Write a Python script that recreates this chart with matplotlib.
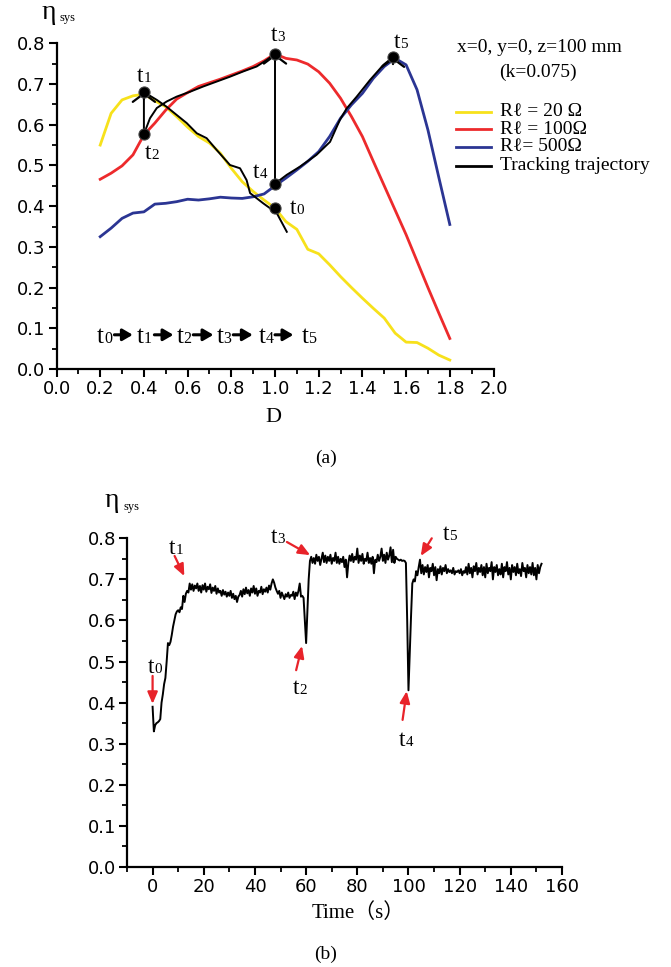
import numpy as np
import matplotlib.pyplot as plt
from matplotlib.lines import Line2D
from matplotlib.ticker import MultipleLocator, FormatStrFormatter

# ---- (a) efficiency vs D ----
D = [0.2, 0.25, 0.3, 0.35, 0.4, 0.45, 0.5, 0.55, 0.6, 0.65, 0.7, 0.75, 0.8,
     0.85, 0.9, 0.95, 1.0, 1.05, 1.1, 1.15, 1.2, 1.25, 1.3, 1.35, 1.4, 1.45,
     1.5, 1.55, 1.6, 1.65, 1.7, 1.75, 1.8]
eta_20 = [0.55, 0.628, 0.661, 0.671, 0.675, 0.659, 0.644, 0.62, 0.594, 0.571,
          0.555, 0.53, 0.493, 0.46, 0.436, 0.415, 0.395, 0.362, 0.343, 0.294,
          0.283, 0.256, 0.227, 0.2, 0.174, 0.149, 0.125, 0.088, 0.066, 0.065,
          0.051, 0.034, 0.022]
eta_100 = [0.466, 0.481, 0.499, 0.526, 0.575, 0.604, 0.636, 0.663, 0.679, 0.694,
           0.703, 0.712, 0.722, 0.732, 0.743, 0.757, 0.774, 0.763, 0.759, 0.749,
           0.73, 0.702, 0.665, 0.62, 0.571, 0.51, 0.45, 0.39, 0.33, 0.265,
           0.2, 0.137, 0.075]
eta_500 = [0.325, 0.346, 0.37, 0.383, 0.386, 0.405, 0.407, 0.411, 0.417, 0.415,
           0.418, 0.422, 0.42, 0.419, 0.423, 0.43, 0.45, 0.469, 0.489, 0.51,
           0.534, 0.571, 0.616, 0.649, 0.677, 0.714, 0.743, 0.763, 0.747, 0.686,
           0.587, 0.47, 0.355]

# tracking trajectory t0 -> t1 -> t2 -> t3 -> t4 -> t5
traj_D = [1.054, 1.008, 0.946, 0.886, 0.87, 0.84, 0.794, 0.733, 0.687, 0.642,
          0.596, 0.55, 0.504, 0.459, 0.4,
          0.4, 0.428, 0.459, 0.504, 0.55, 0.611, 0.672, 0.733, 0.794, 0.855,
          0.916, 0.962, 1.0,
          1.0, 1.054, 1.114, 1.19, 1.252, 1.297, 1.328, 1.374, 1.435, 1.496, 1.54]
traj_eta = [0.337, 0.383, 0.407, 0.432, 0.464, 0.493, 0.501, 0.538, 0.567, 0.579,
            0.604, 0.624, 0.644, 0.661, 0.68,
            0.577, 0.616, 0.641, 0.657, 0.669, 0.681, 0.694, 0.706, 0.718, 0.731,
            0.743, 0.759, 0.774,
            0.455, 0.477, 0.497, 0.526, 0.558, 0.612, 0.64, 0.669, 0.71, 0.747, 0.766]

# operating points t0..t5
pts_D = [1.0, 0.4, 0.4, 1.0, 1.0, 1.54]
pts_eta = [0.395, 0.68, 0.577, 0.774, 0.455, 0.766]

legend_labels = ['R\u2113 = 20 \u03a9', 'R\u2113 = 100\u03a9', 'R\u2113= 500\u03a9',
                 'Tracking trajectory']
colors = ['#f7e11b', '#ed2a2c', '#2b3593', 'black']

# ---- (b) measured efficiency vs time (0.5 s samples) ----
eta_t = [
    0.39, 0.33, 0.345, 0.35, 0.352, 0.355, 0.36, 0.40, 0.42, 0.445, 0.46, 0.50, 0.545, 0.54, 0.548, 0.565, 0.585, 0.60, 0.615, 0.622,
    0.625, 0.62, 0.632, 0.628, 0.66, 0.645, 0.665, 0.672, 0.668, 0.69, 0.675, 0.688, 0.672, 0.685, 0.678, 0.69, 0.672, 0.684, 0.668, 0.686,
    0.675, 0.69, 0.67, 0.682, 0.676, 0.688, 0.667, 0.68, 0.672, 0.684, 0.665, 0.678, 0.668, 0.672, 0.66, 0.674, 0.663, 0.67, 0.658, 0.668,
    0.66, 0.672, 0.655, 0.665, 0.652, 0.66, 0.645, 0.658, 0.662, 0.672, 0.658, 0.676, 0.664, 0.68, 0.666, 0.674, 0.66, 0.678, 0.668, 0.684,
    0.665, 0.678, 0.66, 0.672, 0.668, 0.682, 0.664, 0.676, 0.67, 0.68, 0.668, 0.685, 0.675, 0.69, 0.70, 0.692, 0.68, 0.672, 0.665, 0.672,
    0.655, 0.668, 0.66, 0.652, 0.664, 0.658, 0.668, 0.655, 0.662, 0.66, 0.67, 0.652, 0.668, 0.66, 0.672, 0.69, 0.658, 0.66, 0.655,
    0.60, 0.545, 0.62, 0.70, 0.745, 0.755, 0.74, 0.752, 0.738, 0.76, 0.745, 0.755, 0.735, 0.75, 0.765, 0.742, 0.758, 0.74, 0.755, 0.745,
    0.76, 0.738, 0.752, 0.745, 0.765, 0.74, 0.755, 0.738, 0.75, 0.742, 0.755, 0.73, 0.748, 0.705, 0.74, 0.758, 0.745, 0.762, 0.742, 0.755,
    0.748, 0.775, 0.74, 0.758, 0.745, 0.762, 0.738, 0.75, 0.745, 0.765, 0.74, 0.752, 0.738, 0.755, 0.715, 0.748, 0.742, 0.76, 0.745, 0.755,
    0.775, 0.745, 0.76, 0.74, 0.765, 0.748, 0.758, 0.778, 0.742, 0.772, 0.74, 0.755, 0.75, 0.748, 0.746, 0.748, 0.745, 0.746, 0.745,
    0.74, 0.60, 0.43, 0.52, 0.61, 0.69, 0.70, 0.695, 0.72, 0.71, 0.73, 0.748, 0.715, 0.735, 0.712, 0.73, 0.718, 0.735, 0.705, 0.728,
    0.72, 0.738, 0.71, 0.73, 0.698, 0.725, 0.715, 0.732, 0.712, 0.728, 0.72, 0.735, 0.715, 0.725, 0.718, 0.722, 0.715, 0.728, 0.712, 0.72,
    0.718, 0.722, 0.715, 0.725, 0.71, 0.72, 0.716, 0.73, 0.712, 0.738, 0.715, 0.728, 0.705, 0.732, 0.72, 0.74, 0.712, 0.728, 0.718, 0.735,
    0.71, 0.73, 0.705, 0.738, 0.715, 0.728, 0.72, 0.742, 0.70, 0.73, 0.718, 0.735, 0.71, 0.725, 0.712, 0.738, 0.705, 0.73, 0.72, 0.742,
    0.712, 0.728, 0.70, 0.735, 0.718, 0.73, 0.71, 0.738, 0.715, 0.725, 0.708, 0.74, 0.72, 0.728, 0.705, 0.735, 0.715, 0.73, 0.712, 0.74,
    0.71, 0.728, 0.70, 0.735, 0.715, 0.73, 0.738,
]
time_s = np.arange(len(eta_t)) * 0.5

# label positions for t0..t5 in panel (b) and the red arrows (tail -> tip)
b_lab = [(0.6, 0.473), (9.0, 0.763), (57.2, 0.421), (48.8, 0.788), (98.9, 0.295), (115.8, 0.796)]
b_arrows = [((0, 0.465), (0, 0.397)), ((8.6, 0.757), (12.4, 0.708)),
            ((56.1, 0.479), (58.4, 0.538)), ((52.5, 0.791), (61.6, 0.759)),
            ((97.7, 0.358), (99.3, 0.428)), ((109.1, 0.80), (104.8, 0.757))]

SERIF = ['Liberation Serif', 'DejaVu Serif']
plt.rcParams['font.family'] = 'DejaVu Sans'

W, H = 671, 967
fx = lambda px: px / W
fy = lambda py: 1 - py / H

fig = plt.figure(figsize=(6.71, 9.67), dpi=100)
ax1 = fig.add_axes([fx(56.5), fy(369), 437 / W, (369 - 43.3) / H])
ax2 = fig.add_axes([fx(127), fy(867), 435 / W, (867 - 538.3) / H])


def style(ax):
    for s in ['top', 'right']:
        ax.spines[s].set_visible(False)
    for s in ['left', 'bottom']:
        ax.spines[s].set_linewidth(1.6)
    ax.tick_params(which='major', direction='out', length=6, width=1.5, labelsize=13, pad=2)
    ax.tick_params(which='minor', direction='out', length=3.5, width=1.3)
    ax.yaxis.set_major_locator(MultipleLocator(0.1))
    ax.yaxis.set_minor_locator(MultipleLocator(0.05))
    ax.yaxis.set_major_formatter(FormatStrFormatter('%.1f'))


def tlabel(ax, x, y, n, size=17):
    ax.text(x, y, 't', fontsize=size, family=SERIF, ha='right', va='baseline')
    ax.text(x, y, str(n), fontsize=size * 0.64, family=SERIF, ha='left', va='baseline')


# ---- panel (a) ----
style(ax1)
ax1.set_xlim(0, 2.0)
ax1.set_ylim(0, 0.8)
ax1.xaxis.set_major_locator(MultipleLocator(0.2))
ax1.xaxis.set_minor_locator(MultipleLocator(0.1))
ax1.xaxis.set_major_formatter(FormatStrFormatter('%.1f'))

ax1.plot(D, eta_20, color=colors[0], lw=2)
ax1.plot(D, eta_100, color=colors[1], lw=2)
ax1.plot(D, eta_500, color=colors[2], lw=2)
ax1.plot(traj_D, traj_eta, color='black', lw=1.4, zorder=4)
ax1.plot(pts_D, pts_eta, 'o', color='black', ms=8, mec='#444444', mew=0.8, zorder=6)
for i in (1, 3, 5):
    ax1.annotate('', xy=(pts_D[i], pts_eta[i]), xytext=(0, -5), textcoords='offset points',
                 arrowprops=dict(arrowstyle='->,head_length=0.3,head_width=0.4', lw=1.6,
                                 color='black', mutation_scale=20, shrinkA=0, shrinkB=0),
                 zorder=5)

a_lab = [(1.096, 0.381), (0.398, 0.705), (0.436, 0.515), (1.011, 0.806), (0.928, 0.469), (1.572, 0.789)]
for n, (x, y) in enumerate(a_lab):
    tlabel(ax1, x, y, n)

# sequence t0 -> t1 -> ... -> t5
seq_x = [0.217, 0.397, 0.58, 0.763, 0.959, 1.152]
for n, x in enumerate(seq_x):
    tlabel(ax1, x, 0.065, n, size=18)
seq_arrows = [(0.265, 0.349), (0.448, 0.535), (0.626, 0.718), (0.809, 0.898), (1.0, 1.084)]
for x0, x1 in seq_arrows:
    ax1.annotate('', xy=(x1, 0.084), xytext=(x0, 0.084),
                 arrowprops=dict(arrowstyle='-|>,head_length=0.6,head_width=0.35', lw=2.2,
                                 color='black', mutation_scale=10, shrinkA=0, shrinkB=0))

fig.text(fx(539.7), fy(47), 'x=0, y=0, z=100 mm', ha='center', va='center', family=SERIF, fontsize=14)
fig.text(fx(538), fy(72), '(k=0.075)', ha='center', va='center', family=SERIF, fontsize=14)
for i, yy in enumerate([111.7, 129, 146.7, 165.7]):
    fig.add_artist(Line2D([fx(456), fx(491)], [fy(yy), fy(yy)], color=colors[i], lw=2))
    fig.text(fx(500), fy(yy), legend_labels[i], ha='left', va='center', family=SERIF, fontsize=14)

fig.text(fx(41.5), fy(19), '\u03b7', ha='left', va='baseline', family=SERIF, fontsize=20)
fig.text(fx(59.5), fy(21), 'sys', ha='left', va='baseline', family=SERIF, fontsize=9)
fig.text(fx(273), fy(418), 'D', ha='center', va='center', family=SERIF, fontsize=16)
fig.text(fx(326), fy(458), '(a)', ha='center', va='center', family=SERIF, fontsize=14)

# ---- panel (b) ----
style(ax2)
ax2.set_xlim(-10, 160)
ax2.set_ylim(0, 0.8)
ax2.xaxis.set_major_locator(MultipleLocator(20))
ax2.xaxis.set_minor_locator(MultipleLocator(10))
ax2.plot(time_s, eta_t, color='black', lw=1.4)

for n, (x, y) in enumerate(b_lab):
    tlabel(ax2, x, y, n)
for tail, tip in b_arrows:
    ax2.annotate('', xy=tip, xytext=tail,
                 arrowprops=dict(arrowstyle='-|>,head_length=0.7,head_width=0.3', lw=1.6,
                                 color='#e8232a', mutation_scale=10, shrinkA=0, shrinkB=0))

fig.text(fx(104.5), fy(507), '\u03b7', ha='left', va='baseline', family=SERIF, fontsize=20)
fig.text(fx(123), fy(510), 'sys', ha='left', va='baseline', family=SERIF, fontsize=9)
fig.text(fx(358), fy(913), 'Time\uff08s\uff09', ha='center', va='center',
         family=['Liberation Serif', 'Noto Sans CJK SC'], fontsize=15)
fig.text(fx(326), fy(954), '(b)', ha='center', va='center', family=SERIF, fontsize=14)

fig.savefig('out.png', dpi=100)
